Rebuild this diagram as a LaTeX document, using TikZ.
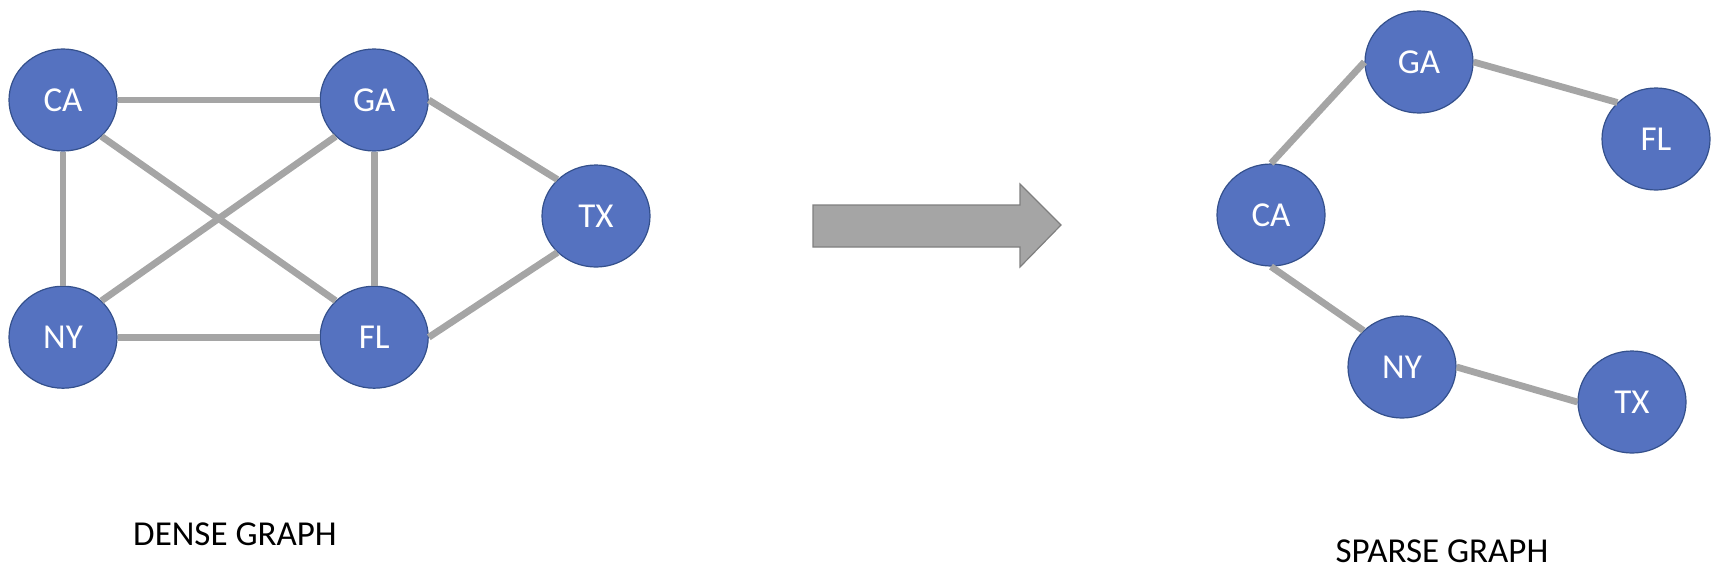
\documentclass[tikz,border=0pt]{standalone}
\usepackage{fontspec}
\setmainfont{Carlito}
\usetikzlibrary{shapes.geometric,positioning}
\definecolor{statefill}{HTML}{5572C0}
\definecolor{stateline}{HTML}{34508C}
\definecolor{edgegray}{HTML}{A5A5A5}
\definecolor{arrowline}{HTML}{7F7F7F}
\tikzset{
statenode/.style={
  ellipse,
  draw=stateline,
  line width=1.2pt,
  fill=statefill,
  text=white,
  inner sep=0pt,
  minimum width=108pt,
  minimum height=102pt,
  font=\fontsize{35}{35}\selectfont
},
graphedge/.style={
  draw=edgegray,
  line width=6.8pt
},
caption/.style={
  font=\fontsize{35}{35}\selectfont
}
}

\begin{document}
\begin{tikzpicture}[x=1pt,y=-1pt,node distance=134pt and 202pt]
\useasboundingbox (0,0) rectangle (1728,574);

% dense graph
\node[statenode] (dca) at (63,100) {CA};
\node[statenode, right=of dca] (dga) {GA};
\node[statenode, below=of dca] (dny) {NY};
\node[statenode, below=of dga] (dfl) {FL};
\node[statenode] (dtx) at (596,216) {TX};

\draw[graphedge] (dca) -- (dga);
\draw[graphedge] (dca) -- (dny);
\draw[graphedge] (dny) -- (dfl);
\draw[graphedge] (dga) -- (dfl);
\draw[graphedge] (dca.south east) -- (dfl.north west);
\draw[graphedge] (dga.south west) -- (dny.north east);
\draw[graphedge] (dga.east) -- (dtx.north west);
\draw[graphedge] (dfl.east) -- (dtx.south west);

\node[caption] (dlabel) at (235,534) {DENSE GRAPH};

% big arrow
\draw[fill=edgegray, draw=arrowline, line width=1.2pt]
  (813,205) -- (1020,205) -- (1020,184) -- (1061,225) -- (1020,267) -- (1020,247) -- (813,247) -- cycle;

% sparse graph
\node[statenode] (sca) at (1271,215) {CA};
\node[statenode] (sga) at (1419,62) {GA};
\node[statenode] (sfl) at (1656,139) {FL};
\node[statenode] (sny) at (1402,367) {NY};
\node[statenode] (stx) at (1632,402) {TX};

\draw[graphedge] (sca.north) -- (sga.west);
\draw[graphedge] (sca.south) -- (sny.north west);
\draw[graphedge] (sga.east) -- (sfl.north west);
\draw[graphedge] (sny.east) -- (stx.west);

\node[caption] (slabel) at (1442,551) {SPARSE GRAPH};

\end{tikzpicture}
\end{document}
